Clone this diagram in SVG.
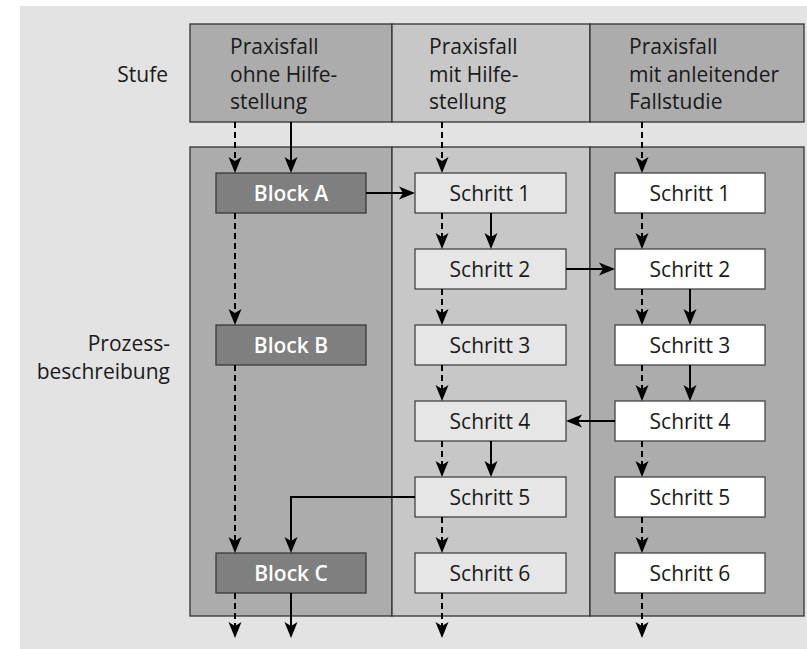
<svg xmlns="http://www.w3.org/2000/svg" width="807" height="649" viewBox="0 0 807 649">
  <style>
    text { font-family: "Open Sans", "Noto Sans", "DejaVu Sans", sans-serif; font-size: 21px; fill: #1a1a1a; }
    .lbl { text-anchor: end; }
    .mid { text-anchor: middle; }
    .blk text { fill: #ffffff; font-weight: 600; font-size: 21px; }
    .cell { stroke: #333333; stroke-width: 1.3; }
    .col-dark { fill: #acacac; }
    .col-light { fill: #c7c7c7; }
    .blk rect { fill: #7f7f7f; stroke: #3a3a3a; stroke-width: 1.3; }
    .st2 rect { fill: #e6e6e6; stroke: #444444; stroke-width: 1.3; }
    .st3 rect { fill: #ffffff; stroke: #444444; stroke-width: 1.3; }
    .solid { fill: none; stroke: #000; stroke-width: 2; marker-end: url(#head); }
    .dash { fill: none; stroke: #000; stroke-width: 2; stroke-dasharray: 6 4; marker-end: url(#head); }
  </style>
  <defs>
    <marker id="head" viewBox="0 0 16 14" refX="14" refY="7" markerWidth="16" markerHeight="14" markerUnits="userSpaceOnUse" orient="auto">
      <path d="M0,0.5 L16,7 L0,13.5 L4,7 Z" fill="#000"/>
    </marker>
  </defs>

  <!-- backdrop -->
  <rect x="20" y="6" width="787" height="643" fill="#e3e3e3"/>

  <!-- row labels -->
  <text class="lbl" x="168" y="82">Stufe</text>
  <text class="lbl" x="170" y="351">Prozess-</text>
  <text class="lbl" x="170" y="379">beschreibung</text>

  <!-- header row -->
  <g id="header">
    <rect class="cell col-dark" x="190" y="24" width="202" height="98"/>
    <rect class="cell col-light" x="392" y="24" width="198" height="98"/>
    <rect class="cell col-dark" x="590" y="24" width="214" height="98"/>
    <text x="230" y="54">Praxisfall</text>
    <text x="230" y="82">ohne Hilfe-</text>
    <text x="230" y="109">stellung</text>
    <text x="429" y="54">Praxisfall</text>
    <text x="429" y="82">mit Hilfe-</text>
    <text x="429" y="109">stellung</text>
    <text x="629" y="54">Praxisfall</text>
    <text x="629" y="82">mit anleitender</text>
    <text x="629" y="109">Fallstudie</text>
  </g>

  <!-- process columns -->
  <g id="body">
    <rect class="cell col-dark" x="190" y="147" width="202" height="469"/>
    <rect class="cell col-light" x="392" y="147" width="198" height="469"/>
    <rect class="cell col-dark" x="590" y="147" width="214" height="469"/>
  </g>

  <!-- column 1: blocks -->
  <g id="blockA" class="blk"><rect x="216" y="173" width="150" height="40"/><text class="mid" x="291" y="201">Block A</text></g>
  <g id="blockB" class="blk"><rect x="216" y="325" width="150" height="40"/><text class="mid" x="291" y="353">Block B</text></g>
  <g id="blockC" class="blk"><rect x="216" y="553" width="150" height="40"/><text class="mid" x="291" y="581">Block C</text></g>

  <!-- column 2: steps -->
  <g id="c2s1" class="st2"><rect x="415" y="173" width="151" height="40"/><text class="mid" x="490" y="201">Schritt 1</text></g>
  <g id="c2s2" class="st2"><rect x="415" y="249" width="151" height="40"/><text class="mid" x="490" y="277">Schritt 2</text></g>
  <g id="c2s3" class="st2"><rect x="415" y="325" width="151" height="40"/><text class="mid" x="490" y="353">Schritt 3</text></g>
  <g id="c2s4" class="st2"><rect x="415" y="401" width="151" height="40"/><text class="mid" x="490" y="429">Schritt 4</text></g>
  <g id="c2s5" class="st2"><rect x="415" y="477" width="151" height="40"/><text class="mid" x="490" y="505">Schritt 5</text></g>
  <g id="c2s6" class="st2"><rect x="415" y="553" width="151" height="40"/><text class="mid" x="490" y="581">Schritt 6</text></g>

  <!-- column 3: steps -->
  <g id="c3s1" class="st3"><rect x="615" y="173" width="150" height="40"/><text class="mid" x="690" y="201">Schritt 1</text></g>
  <g id="c3s2" class="st3"><rect x="615" y="249" width="150" height="40"/><text class="mid" x="690" y="277">Schritt 2</text></g>
  <g id="c3s3" class="st3"><rect x="615" y="325" width="150" height="40"/><text class="mid" x="690" y="353">Schritt 3</text></g>
  <g id="c3s4" class="st3"><rect x="615" y="401" width="150" height="40"/><text class="mid" x="690" y="429">Schritt 4</text></g>
  <g id="c3s5" class="st3"><rect x="615" y="477" width="150" height="40"/><text class="mid" x="690" y="505">Schritt 5</text></g>
  <g id="c3s6" class="st3"><rect x="615" y="553" width="150" height="40"/><text class="mid" x="690" y="581">Schritt 6</text></g>

  <g id="connectors">
    <!-- from header -->
    <path class="dash" d="M235,122 V171"/>
    <path class="solid" d="M291,122 V171"/>
    <path class="dash" d="M442,122 V171"/>
    <path class="dash" d="M642,122 V171"/>

    <!-- column 1 -->
    <path class="dash" d="M235,213 V323"/>
    <path class="dash" d="M235,365 V551"/>
    <path class="solid" d="M415,497 H291 V551"/>
    <path class="dash" d="M235,593 V636"/>
    <path class="solid" d="M291,593 V636"/>

    <!-- cross links -->
    <path class="solid" d="M366,193 H413"/>
    <path class="solid" d="M566,269 H613"/>
    <path class="solid" d="M615,421 H568"/>

    <!-- column 2 -->
    <path class="dash" d="M442,213 V247"/>
    <path class="solid" d="M491,213 V247"/>
    <path class="dash" d="M442,289 V323"/>
    <path class="dash" d="M442,365 V399"/>
    <path class="dash" d="M442,441 V475"/>
    <path class="solid" d="M491,441 V475"/>
    <path class="dash" d="M442,517 V551"/>
    <path class="dash" d="M442,593 V636"/>

    <!-- column 3 -->
    <path class="dash" d="M642,213 V247"/>
    <path class="dash" d="M642,289 V323"/>
    <path class="solid" d="M690,289 V323"/>
    <path class="dash" d="M642,365 V399"/>
    <path class="solid" d="M690,365 V399"/>
    <path class="dash" d="M642,441 V475"/>
    <path class="dash" d="M642,517 V551"/>
    <path class="dash" d="M642,593 V636"/>
  </g>
</svg>
